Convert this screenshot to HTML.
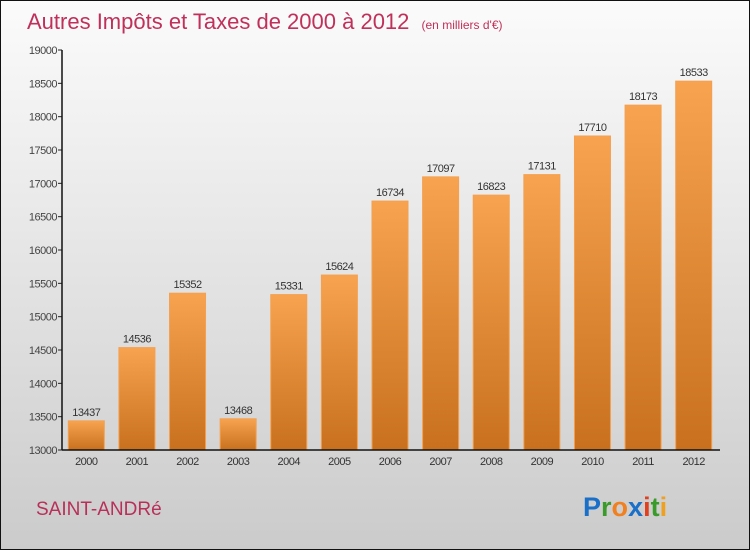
<!DOCTYPE html>
<html><head><meta charset="utf-8"><style>
html,body{margin:0;padding:0}
body{width:750px;height:550px;overflow:hidden;font-family:"Liberation Sans",sans-serif}
#wrap{position:absolute;left:0;top:0;width:748px;height:548px;border:1px solid #111;background:linear-gradient(#fbfbfb,#e6e6e6 45%,#cbcbcb)}
</style></head><body>
<div id="wrap">
<svg width="750" height="550" style="position:absolute;left:-1px;top:-1px">
<defs><linearGradient id="bg" x1="0" y1="0" x2="0" y2="1"><stop offset="0" stop-color="#f7a34f"/><stop offset="1" stop-color="#c8701e"/></linearGradient></defs>
<text x="27" y="29" font-size="22" fill="#c0305a">Autres Impôts et Taxes de 2000 à 2012 <tspan font-size="12" dx="6">(en milliers d'€)</tspan></text>
<g id="plot"></g>
<text x="36" y="515" font-size="19" fill="#b8305a">SAINT-ANDRé</text>
<g font-size="27" font-weight="bold" font-family="'Liberation Sans',sans-serif">
<text x="583" y="516"><tspan fill="#1a6fc8">P</tspan><tspan fill="#3a9a2a">r</tspan><tspan fill="#f08020">o</tspan><tspan fill="#1a6fc8">x</tspan><tspan fill="#e04020">i</tspan><tspan fill="#3a9a2a">t</tspan><tspan fill="#f0a020">i</tspan></text></g>
</svg>
</div>
<script>
const years=["2000","2001","2002","2003","2004","2005","2006","2007","2008","2009","2010","2011","2012"];
const values=[13437,14536,15352,13468,15331,15624,16734,17097,16823,17131,17710,18173,18533];
const yTicks=[13000,13500,14000,14500,15000,15500,16000,16500,17000,17500,18000,18500,19000];
const ns="http://www.w3.org/2000/svg";
const g=document.getElementById('plot');
const x0=62,x1=720,y0=450,y1=50,ymin=13000,ymax=19000;
const y=v=>y0-(v-ymin)/(ymax-ymin)*(y0-y1);
const step=(x1-x0)/years.length;
const xc=i=>x0+step*(i+0.5)-1;
function mk(t,a){const e=document.createElementNS(ns,t);for(const k in a)e.setAttribute(k,a[k]);g.appendChild(e);return e;}
yTicks.forEach(v=>{
 const l=mk('line',{x1:x0-4,x2:x0,y1:y(v),y2:y(v),stroke:'#222'});
 
 
 const t=mk('text',{x:x0-5,y:y(v)+4,'font-size':11,'text-anchor':'end',fill:'#444','letter-spacing':'-0.5'});
 t.textContent=v;
 
 
});
values.forEach((v,i)=>{
 const r=mk('rect',{x:xc(i)-18,y:y(v),width:36,height:y0-y(v),fill:'url(#bg)',stroke:'#f4a050','stroke-width':1});
 
 
 const t=mk('text',{x:xc(i),y:y(v)-5,'font-size':11,'text-anchor':'middle',fill:'#333','letter-spacing':'-0.5'});
 t.textContent=v;
 
 
 const xl=mk('text',{x:xc(i),y:y0+15,'font-size':11,'text-anchor':'middle',fill:'#333','letter-spacing':'-0.5'});
 xl.textContent=years[i];
 
 
});
const ya=mk('line',{x1:x0,x2:x0,y1:y1,y2:y0,stroke:'#111','stroke-width':1.5});


const xa=mk('line',{x1:x0,x2:x1,y1:y0,y2:y0,stroke:'#111','stroke-width':1.5});


</script>
</body></html>
